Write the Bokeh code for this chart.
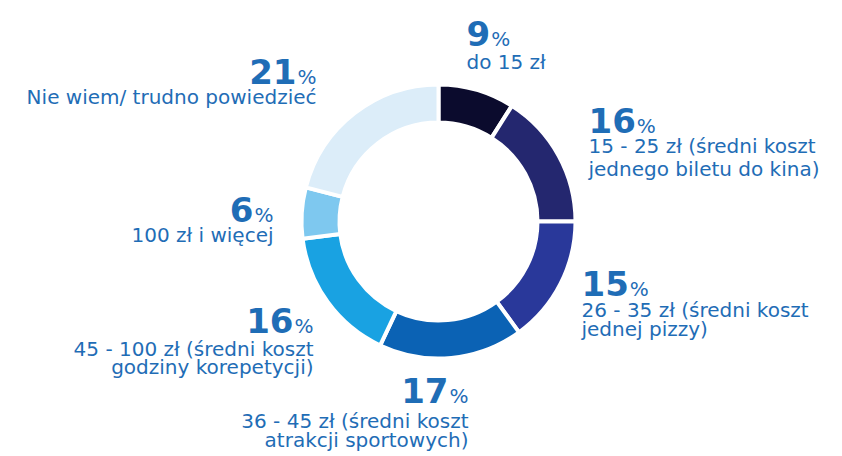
import math
from bokeh.plotting import figure
from bokeh.models import Range1d, ColumnDataSource
from bokeh.core.properties import value
from bokeh.embed import file_html
from bokeh.resources import INLINE

# ---- data ----
categories = [
    "do 15 zł",
    "15 - 25 zł (średni koszt\njednego biletu do kina)",
    "26 - 35 zł (średni koszt\njednej pizzy)",
    "36 - 45 zł (średni koszt\natrakcji sportowych)",
    "45 - 100 zł (średni koszt\ngodziny korepetycji)",
    "100 zł i więcej",
    "Nie wiem/ trudno powiedzieć",
]
shares = [9, 16, 15, 17, 16, 6, 21]
colors = ["#0b0b2d", "#24276f", "#29389a", "#0b62b4", "#19a2e2", "#7ec8ef", "#dcedf9"]

TEXT = "#1f6db6"
FONT = "DejaVu Sans"

W, H = 842, 456
p = figure(width=W, height=H, output_backend="svg", toolbar_location=None,
           x_range=Range1d(0, W), y_range=Range1d(0, H),
           min_border=0, background_fill_color="white", border_fill_color="white")
p.axis.visible = False
p.grid.visible = False
p.outline_line_color = None


def sy(y):
    return H - y


cx, cy = 438, 221
r_out, r_in = 137, 99

ends, starts = [], []
cum = 0
for v in shares:
    a0 = math.pi / 2 - 2 * math.pi * cum / 100
    cum += v
    a1 = math.pi / 2 - 2 * math.pi * cum / 100
    starts.append(a1)
    ends.append(a0)

src = ColumnDataSource(dict(start=starts, end=ends, color=colors, share=shares))
p.annular_wedge(x=cx, y=sy(cy), inner_radius=r_in, outer_radius=r_out,
                start_angle="start", end_angle="end", source=src,
                fill_color="color", line_color="white", line_width=4)

# label layout: (anchor x, number centre y, align, first line centre y, line step)
layout = [
    (466, 33, "left", 61, 21),
    (588, 120, "left", 145, 23),
    (581, 283, "left", 309, 19),
    (468, 390, "right", 420, 19),
    (313, 320, "right", 348, 18),
    (273, 209, "right", 234, 21),
    (316, 71, "right", 96, 21),
]

NUM_SIZE = 34
PCT_SIZE = 20
DIGIT_W = 0.696 * NUM_SIZE
PCT_W = 0.95 * PCT_SIZE
LINE_SIZE = 20

for cat, v, (ax, ny, align, ly, step) in zip(categories, shares, layout):
    num = str(v)
    py = ny + 5
    if align == "left":
        px = ax + len(num) * DIGIT_W + 1
        p.text(x=[ax], y=[sy(ny)], text=[num], text_align="left", text_baseline="middle",
               text_font=value(FONT), text_font_style="bold", text_font_size=f"{NUM_SIZE}px",
               text_color=TEXT)
        p.text(x=[px], y=[sy(py)], text=["%"], text_align="left", text_baseline="middle",
               text_font=value(FONT), text_font_size=f"{PCT_SIZE}px", text_color=TEXT)
    else:
        p.text(x=[ax], y=[sy(py)], text=["%"], text_align="right", text_baseline="middle",
               text_font=value(FONT), text_font_size=f"{PCT_SIZE}px", text_color=TEXT)
        p.text(x=[ax - PCT_W - 1], y=[sy(ny)], text=[num], text_align="right",
               text_baseline="middle", text_font=value(FONT), text_font_style="bold",
               text_font_size=f"{NUM_SIZE}px", text_color=TEXT)
    for i, line in enumerate(cat.split("\n")):
        p.text(x=[ax], y=[sy(ly + i * step)], text=[line], text_align=align,
               text_baseline="middle", text_font=value(FONT),
               text_font_size=f"{LINE_SIZE}px", text_color=TEXT)

open("out.html", "w").write(file_html(p, INLINE))
